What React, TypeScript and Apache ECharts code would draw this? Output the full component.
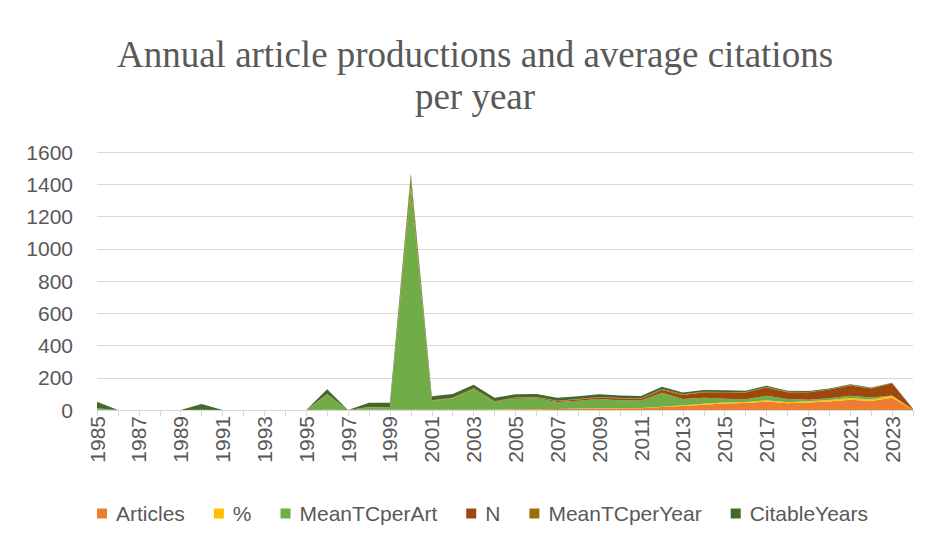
import React, { useEffect, useRef } from "react";
import * as echarts from "echarts";

const years = [
  "1985", "1986", "1987", "1988", "1989", "1990", "1991", "1992", "1993", "1994",
  "1995", "1996", "1997", "1998", "1999", "2000", "2001", "2002", "2003", "2004",
  "2005", "2006", "2007", "2008", "2009", "2010", "2011", "2012", "2013", "2014",
  "2015", "2016", "2017", "2018", "2019", "2020", "2021", "2022", "2023", "2024",
];

const articles = [1, 0, 0, 0, 0, 1, 0, 0, 0, 0, 0, 1, 0, 1, 1, 1, 2, 2, 2, 3, 4, 5, 6, 8, 10, 11, 11, 18, 25, 33, 40, 43, 52, 42, 47, 53, 64, 56, 76, 3];
const percent = [0.16, 0, 0, 0, 0, 0.16, 0, 0, 0, 0, 0, 0.16, 0, 0.16, 0.16, 0.16, 0.32, 0.32, 0.32, 0.48, 0.64, 0.8, 0.96, 1.29, 1.61, 1.77, 1.77, 2.89, 4.02, 5.31, 6.43, 6.91, 8.36, 6.75, 7.56, 8.52, 10.29, 9.0, 12.22, 0.48];
const meanTCperArt = [8.6, 0, 0, 0, 0, 0, 0, 0, 0, 0, 0, 93.6, 0, 15.3, 16.2, 1382.5, 54.41, 68.69, 125.0, 46.31, 65.1, 66.69, 42.67, 47.89, 55.9, 48.03, 45.95, 85.53, 39.67, 38.22, 23.25, 16.28, 27.24, 19.47, 8.95, 12.07, 13.37, 12.0, 1.85, 0];
const nArticles = [1, 0, 0, 0, 0, 1, 0, 0, 0, 0, 0, 1, 0, 1, 1, 1, 2, 2, 2, 3, 4, 5, 6, 8, 10, 11, 11, 18, 25, 33, 40, 43, 52, 42, 47, 53, 64, 56, 76, 3];
const meanTCperYear = [0.22, 0, 0, 0, 0, 0, 0, 0, 0, 0, 0, 3.23, 0, 0.57, 0.62, 55.3, 2.27, 2.99, 5.68, 2.21, 3.26, 3.51, 2.37, 2.82, 3.49, 3.2, 3.28, 6.58, 3.31, 3.47, 2.32, 1.81, 3.4, 2.78, 1.49, 2.41, 3.34, 4.0, 0.93, 0];
const citableYears = [40, 0, 0, 0, 0, 35, 0, 0, 0, 0, 0, 29, 0, 27, 26, 25, 24, 23, 22, 21, 20, 19, 18, 17, 16, 15, 14, 13, 12, 11, 10, 9, 8, 7, 6, 5, 4, 3, 2, 1];

const seriesNames = ["Articles", "%", "MeanTCperArt", "N", "MeanTCperYear", "CitableYears"];
const seriesColors = ["#ED7D31", "#FFC000", "#70AD47", "#9E480E", "#997300", "#43682B"];
const seriesData = [articles, percent, meanTCperArt, nArticles, meanTCperYear, citableYears];

const titleLines = ["Annual article productions and average citations", "per year"];

const TEXT = "#595959";
const SANS = "'Liberation Sans', Arial, sans-serif";
const SERIF = "'Liberation Serif', 'Times New Roman', serif";

export default function App() {
  const ref = useRef<HTMLDivElement>(null);
  useEffect(() => {
    const chart = echarts.init(ref.current!, null, { renderer: "svg" });
    chart.setOption({
      animation: false,
      backgroundColor: "#ffffff",
      graphic: [
        {
          type: "text",
          x: 475,
          y: 54,
          style: { text: titleLines[0], fontSize: 37, fontFamily: SERIF, fill: TEXT, textAlign: "center", textVerticalAlign: "middle" },
        },
        {
          type: "text",
          x: 475,
          y: 96,
          style: { text: titleLines[1], fontSize: 37, fontFamily: SERIF, fill: TEXT, textAlign: "center", textVerticalAlign: "middle" },
        },
      ],
      legend: {
        data: seriesNames,
        left: 92,
        top: 498,
        icon: "rect",
        itemWidth: 10,
        itemHeight: 10,
        itemGap: 29,
        textStyle: { fontSize: 21, color: TEXT, fontFamily: SANS, padding: [0, 0, 0, 4] },
      },
      grid: { left: 97, right: 18, top: 152, bottom: 136, containLabel: false },
      xAxis: {
        type: "category",
        data: years,
        boundaryGap: false,
        axisLine: { lineStyle: { color: "#d9d9d9", width: 1 } },
        axisTick: { show: true, interval: 0, length: 6, lineStyle: { color: "#d9d9d9" } },
        axisLabel: { interval: 1, rotate: 90, margin: 6, fontSize: 21, color: TEXT, fontFamily: SANS },
        splitLine: { show: false },
      },
      yAxis: {
        type: "value",
        min: 0,
        max: 1600,
        interval: 200,
        axisLine: { show: false },
        axisTick: { show: false },
        axisLabel: { fontSize: 21, color: TEXT, fontFamily: SANS, margin: 24, formatter: (v: number) => String(v) },
        splitLine: { lineStyle: { color: "#d9d9d9", width: 1 } },
      },
      series: seriesNames.map((name, i) => ({
        name,
        type: "line",
        stack: "total",
        data: seriesData[i],
        symbol: "none",
        showSymbol: false,
        color: seriesColors[i],
        lineStyle: { width: 0, color: seriesColors[i] },
        areaStyle: { color: seriesColors[i], opacity: 1 },
      })),
    });
    return () => chart.dispose();
  }, []);
  return <div ref={ref} style={{ position: "fixed", left: 0, top: 0, width: 931, height: 546 }} />;
}
